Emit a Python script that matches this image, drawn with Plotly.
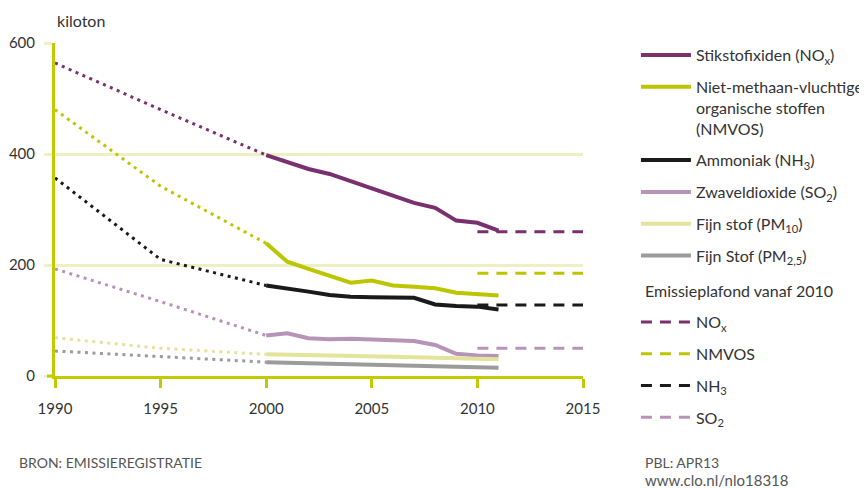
import plotly.graph_objects as go

# ---- data (kiloton) ----
years_hist = [1990, 1995, 2000]
years = [2000, 2001, 2002, 2003, 2004, 2005, 2006, 2007, 2008, 2009, 2010, 2011]
cap_years = [2010, 2015]

nox_hist = [564, 480, 398]
nox = [398, 385, 373, 364, 351, 338, 325, 312, 303, 280, 276, 262]
nmvos_hist = [480, 342, 239]
nmvos = [239, 206, 193, 181, 168, 172, 163, 161, 158, 150, 147, 145]
nh3_hist = [357, 210, 163]
nh3 = [163, 158, 152, 146, 143, 142, 142, 141, 129, 126, 125, 120]
so2_hist = [193, 134, 73]
so2 = [73, 77, 68, 66, 67, 66, 65, 63, 56, 40, 37, 36]
pm10_hist = [69, 50, 39]
pm10 = [39, 38, 37.5, 37, 36, 35, 34.5, 34, 33, 32, 31, 30]
pm25_hist = [45, 35, 25]
pm25 = [25, 24, 23, 22, 21, 20.5, 20, 19, 18, 17, 16, 15]

cap_nox = [260, 260]
cap_nmvos = [185, 185]
cap_nh3 = [128, 128]
cap_so2 = [50, 50]

names = ["Stikstofixiden (NO<sub>x</sub>)",
         "Niet-methaan-vluchtige<br>organische stoffen<br>(NMVOS)",
         "Ammoniak (NH<sub>3</sub>)",
         "Zwaveldioxide (SO<sub>2</sub>)",
         "Fijn stof (PM<sub>10</sub>)",
         "Fijn Stof (PM<sub>2,5</sub>)"]
cap_title = "Emissieplafond vanaf 2010"
cap_names = ["NO<sub>x</sub>", "NMVOS", "NH<sub>3</sub>", "SO<sub>2</sub>"]

C_NOX = "#7a2f6f"
C_NMVOS = "#bcc600"
C_NH3 = "#1a1a1a"
C_SO2 = "#b893b8"
C_PM10 = "#e2e49c"
C_PM25 = "#9b9b9b"
GRID = "#eef0c4"
AXIS = "#c3cb00"
TXT = "#333333"
FONT = "Lato"

fig = go.Figure()

series = [
    (names[0], nox_hist, nox, C_NOX),
    (names[1], nmvos_hist, nmvos, C_NMVOS),
    (names[2], nh3_hist, nh3, C_NH3),
    (names[3], so2_hist, so2, C_SO2),
    (names[4], pm10_hist, pm10, C_PM10),
    (names[5], pm25_hist, pm25, C_PM25),
]

# dotted historic parts (not in legend)
for nm, hv, v, col in series:
    fig.add_trace(go.Scatter(x=years_hist, y=hv, mode="lines",
                             line=dict(color=col, width=3, dash="3px,4.5px"),
                             showlegend=False, hoverinfo="skip"))

# solid lines
for i, (nm, hv, v, col) in enumerate(series):
    fig.add_trace(go.Scatter(x=years, y=v, mode="lines", name=nm,
                             line=dict(color=col, width=4),
                             legendgroup="g%d" % i, legendrank=i + 1))

# caps (second legend)
caps = [(cap_names[0], cap_nox, C_NOX), (cap_names[1], cap_nmvos, C_NMVOS),
        (cap_names[2], cap_nh3, C_NH3), (cap_names[3], cap_so2, C_SO2)]
for j, (nm, v, col) in enumerate(caps):
    fig.add_trace(go.Scatter(x=cap_years, y=v, mode="lines", name=nm,
                             line=dict(color=col, width=3, dash="11px,8px"),
                             legend="legend2",
                             legendgroup="c%d" % j, legendrank=10 + j))

leg_common = dict(xref="container", xanchor="left", yref="container", yanchor="top",
                  font=dict(size=16, color=TXT, family=FONT),
                  tracegroupgap=8, itemwidth=50, valign="top",
                  bgcolor="rgba(0,0,0,0)", traceorder="grouped")

# page body adds an 8px margin, so the figure is 8px smaller
fig.update_layout(
    width=859, height=480,
    margin=dict(l=47, r=284, t=35, b=112, autoexpand=False),
    paper_bgcolor="white", plot_bgcolor="white",
    font=dict(family=FONT, size=14, color=TXT),
    showlegend=True,
    legend=dict(x=0.731, y=0.9375, **leg_common),
    legend2=dict(x=0.731, y=0.38125, **leg_common),
)

fig.update_xaxes(range=[1990, 2015], tickvals=[1990, 1995, 2000, 2005, 2010, 2015],
                 showgrid=False, zeroline=False,
                 showline=True, linecolor=AXIS, linewidth=3,
                 ticks="outside", ticklen=9, tickwidth=3, tickcolor=AXIS,
                 ticklabelstandoff=8,
                 tickfont=dict(size=15, color=TXT, family=FONT))
fig.update_yaxes(range=[0, 600], tickvals=[0, 200, 400, 600],
                 showgrid=True, gridcolor=GRID, gridwidth=2.5, zeroline=False,
                 showline=True, linecolor=AXIS, linewidth=3,
                 ticks="outside", ticklen=8, tickwidth=2.5, tickcolor=GRID,
                 ticklabelstandoff=6,
                 tickfont=dict(size=15, color=TXT, family=FONT))

# extend the x axis line slightly left of the y axis, as in the original
fig.add_shape(type="line", xref="paper", yref="paper", x0=-8 / 528, x1=0, y0=0, y1=0,
              line=dict(color=AXIS, width=3), layer="above")

fig.add_annotation(text="kiloton", xref="paper", yref="paper", x=0, y=1,
                   xanchor="left", yanchor="middle", yshift=23, showarrow=False,
                   font=dict(size=16, color=TXT, family=FONT))
fig.add_annotation(text=cap_title, xref="paper", yref="paper",
                   x=588 / 528, y=86 / 333, xanchor="left", yanchor="middle",
                   showarrow=False, font=dict(size=16, color=TXT, family=FONT))
fig.add_annotation(text="BRON: EMISSIEREGISTRATIE", xref="paper", yref="paper",
                   x=-38 / 528, y=-86 / 333, xanchor="left", yanchor="middle",
                   showarrow=False, font=dict(size=14, color="#555555", family=FONT))
fig.add_annotation(text="PBL: APR13", xref="paper", yref="paper",
                   x=588 / 528, y=-86 / 333, xanchor="left", yanchor="middle",
                   showarrow=False, font=dict(size=14, color="#555555", family=FONT))
fig.add_annotation(text="www.clo.nl/nlo18318", xref="paper", yref="paper",
                   x=588 / 528, y=-104 / 333, xanchor="left", yanchor="middle",
                   showarrow=False, font=dict(size=15, color="#555555", family=FONT))

fig.write_html("out.html")
